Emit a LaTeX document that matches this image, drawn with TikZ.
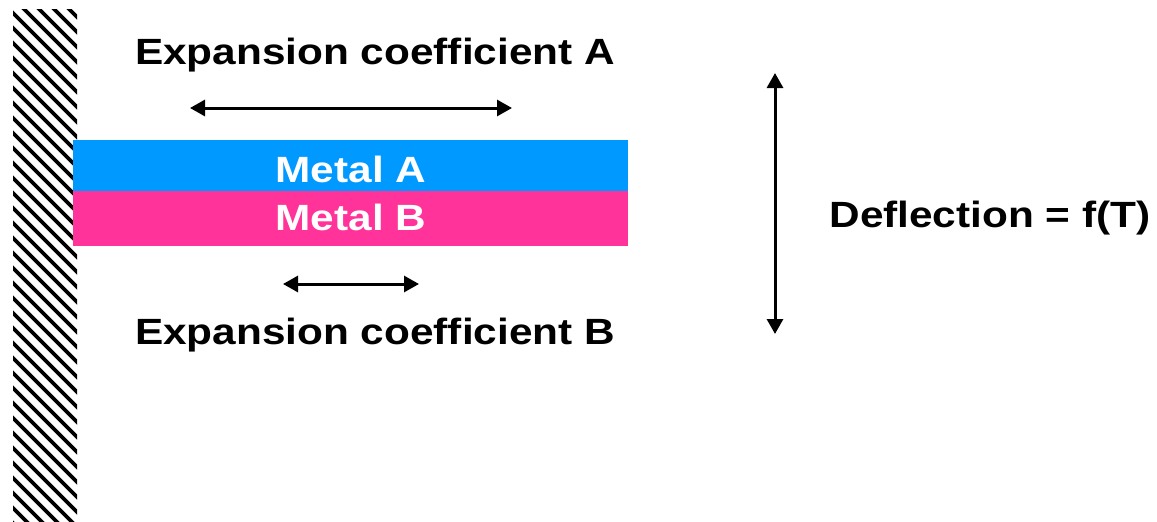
\documentclass[tikz,border=0pt]{standalone}
\usepackage{fontspec}
\newfontfamily\arialx[FakeStretch=1.16]{Liberation Sans}
\usetikzlibrary{arrows.meta}
\definecolor{metalA}{HTML}{0099FF}
\definecolor{metalB}{HTML}{FF3399}
\tikzset{
  lbl/.style={font=\arialx\bfseries\fontsize{36.5}{44}\selectfont, inner sep=0pt, anchor=base},
  dbl/.style={line width=3pt, {Triangle[length=15pt,width=16pt]}-{Triangle[length=15pt,width=16pt]}},
  hatch/.style={line width=3.6pt}
}
\begin{document}
\begin{tikzpicture}[x=1pt,y=-1pt]
\useasboundingbox (0,0) rectangle (1157,522);
% wall
\begin{scope}
  \clip (13,9) rectangle (77,521);
  \foreach \i in {-525,-510,...,90} \draw[hatch] (\i,0) -- ++(600,600);
\end{scope}
% bimetal strip
\fill[metalA] (73,140) rectangle (628,191);
\fill[metalB] (73,191) rectangle (628,246);
\node[lbl, text=white] (ma) at (351,182) {Metal A};
\node[lbl, text=white] (mb) at (351,230) {Metal B};
% labels
\node[lbl] (ea) at (375,64) {Expansion coefficient A};
\node[lbl] (eb) at (375,344) {Expansion coefficient B};
\node[lbl] (df) at (990,227) {Deflection = f(T)};
% arrows
\coordinate (aL) at (190,108);
\coordinate (aR) at (512,108);
\coordinate (bL) at (283,284);
\coordinate (bR) at (419,284);
\coordinate (dT) at (775,73);
\coordinate (dB) at (775,334);
\draw[dbl] (aL) -- (aR);
\draw[dbl] (bL) -- (bR);
\draw[dbl] (dT) -- (dB);
\end{tikzpicture}
\end{document}
